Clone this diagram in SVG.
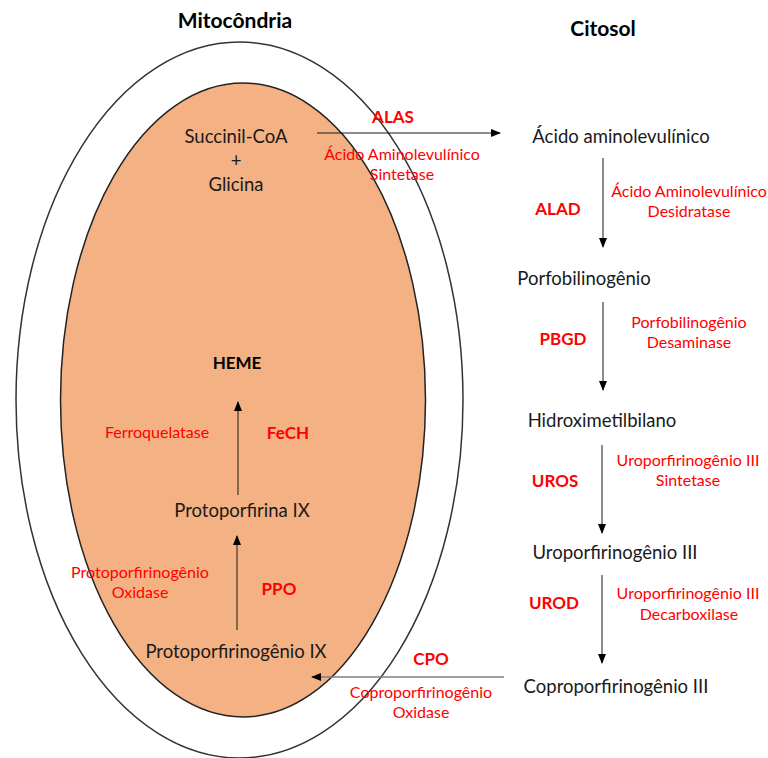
<svg xmlns="http://www.w3.org/2000/svg" width="768" height="758" viewBox="0 0 768 758">
<style>
text{font-family:Lato,"Open Sans","Liberation Sans",sans-serif;text-anchor:middle}
.t{font-size:18.5px;fill:#1a1a1a}
.h{font-size:21px;font-weight:bold;fill:#000}
.e{font-size:16px;fill:#ff0000}
.b{font-size:17px;font-weight:bold;fill:#ff0000}
.k{font-size:17px;font-weight:bold;fill:#000}
.c{stroke:#1a1a1a;stroke-width:1;fill:none}
.g{stroke:#808080;stroke-width:1.3;fill:none}
</style>
<defs>
<marker id="ah" markerUnits="userSpaceOnUse" markerWidth="10" markerHeight="8" refX="9" refY="4" orient="auto">
<path d="M0,0 L10,4 L0,8 Z" fill="#000"/>
</marker>
</defs>
<g id="membranes">
<ellipse cx="239.5" cy="400" rx="223.5" ry="358" fill="#ffffff" stroke="#333" stroke-width="1.5"/>
<ellipse cx="243" cy="400" rx="182.5" ry="317" fill="#F4B183" stroke="#222" stroke-width="1.5"/>
</g>
<g id="connectors">
<line class="c" x1="317" y1="133" x2="500" y2="133" marker-end="url(#ah)"/>
<line class="c" x1="603" y1="158" x2="603" y2="247" marker-end="url(#ah)"/>
<line class="c" x1="603" y1="302" x2="603" y2="390" marker-end="url(#ah)"/>
<line class="c" x1="602" y1="445" x2="602" y2="533" marker-end="url(#ah)"/>
<line class="c" x1="602" y1="575" x2="602" y2="663" marker-end="url(#ah)"/>
<line class="g" x1="504" y1="677" x2="312" y2="677" marker-end="url(#ah)"/>
<line class="c" x1="237" y1="630" x2="237" y2="536" marker-end="url(#ah)"/>
<line class="c" x1="238" y1="495" x2="238" y2="402" marker-end="url(#ah)"/>
</g>
<g id="title-mito"><text class="h" x="235" y="28">Mitocôndria</text></g>
<g id="title-citosol"><text class="h" x="603" y="36">Citosol</text></g>
<g id="succinil"><text class="t" x="236" y="143">Succinil-CoA</text><text class="t" x="236" y="167">+</text><text class="t" x="236" y="191">Glicina</text></g>
<g id="alas"><text class="b" x="393" y="123">ALAS</text><text class="e" x="402" y="160">Ácido Aminolevulínico</text><text class="e" x="402" y="180">Sintetase</text></g>
<g id="ala"><text class="t" x="621" y="143">Ácido aminolevulínico</text></g>
<g id="alad"><text class="b" x="558" y="215">ALAD</text><text class="e" x="689" y="197">Ácido Aminolevulínico</text><text class="e" x="689" y="217">Desidratase</text></g>
<g id="pbg"><text class="t" x="584" y="285">Porfobilinogênio</text></g>
<g id="pbgd"><text class="b" x="563" y="345">PBGD</text><text class="e" x="689" y="328">Porfobilinogênio</text><text class="e" x="689" y="348">Desaminase</text></g>
<g id="hmb"><text class="t" x="602" y="427">Hidroximetilbilano</text></g>
<g id="uros"><text class="b" x="555" y="487">UROS</text><text class="e" x="688" y="466">Uroporfirinogênio III</text><text class="e" x="688" y="486">Sintetase</text></g>
<g id="uro3"><text class="t" x="615" y="559">Uroporfirinogênio III</text></g>
<g id="urod"><text class="b" x="554" y="609">UROD</text><text class="e" x="688" y="599">Uroporfirinogênio III</text><text class="e" x="689" y="620">Decarboxilase</text></g>
<g id="copro3"><text class="t" x="616" y="693">Coproporfirinogênio III</text></g>
<g id="cpo"><text class="b" x="431" y="665">CPO</text><text class="e" x="421" y="698">Coproporfirinogênio</text><text class="e" x="421" y="718">Oxidase</text></g>
<g id="protogen"><text class="t" x="236" y="658">Protoporfirinogênio IX</text></g>
<g id="ppo"><text class="b" x="279" y="595">PPO</text><text class="e" x="140" y="578">Protoporfirinogênio</text><text class="e" x="140" y="598">Oxidase</text></g>
<g id="protoix"><text class="t" x="242" y="517">Protoporfirina IX</text></g>
<g id="fech"><text class="b" x="288" y="439">FeCH</text><text class="e" x="157" y="438">Ferroquelatase</text></g>
<g id="heme"><text class="k" x="237" y="369">HEME</text></g>
</svg>
